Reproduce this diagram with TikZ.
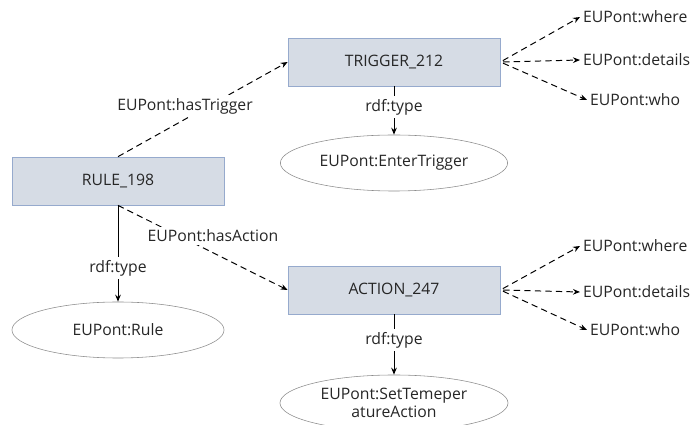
\documentclass[tikz,border=0pt]{standalone}
\usepackage{fontspec}
\setmainfont{Open Sans}
\usetikzlibrary{shapes.geometric}
\usetikzlibrary{arrows.meta}
\usetikzlibrary{math}

\definecolor{boxfill}{RGB}{214,220,229}
\definecolor{boxline}{RGB}{150,170,205}
\definecolor{ovalline}{RGB}{140,140,140}

\tikzset{
  instbox/.style={draw=boxline, fill=boxfill, line width=0.5pt,
    minimum width=5.3cm, minimum height=1.2cm, inner sep=0pt,
    font=\fontsize{11.2}{13}\selectfont},
  classoval/.style={ellipse, draw=ovalline, line width=0.4pt, inner sep=0pt,
    minimum width=5.3cm, minimum height=1.4cm, align=center,
    font=\fontsize{11.2}{13.5}\selectfont},
  edgelbl/.style={fill=white, inner sep=2pt, font=\fontsize{11.2}{13}\selectfont},
  proplbl/.style={anchor=west, inner sep=2pt, font=\fontsize{11.2}{13}\selectfont},
  typeof/.style={line width=0.7pt, -{Stealth[length=5pt,width=4pt]}},
  relation/.style={line width=0.7pt, dash pattern=on 4.5pt off 3pt,
    -{Stealth[length=5pt,width=4pt]}},
}

\begin{document}
\begin{tikzpicture}[x=0.025cm, y=-0.025cm, text=black!85]

  \tikzmath{
    \midx  = 394; % centre column of trigger and action
    \propx = 580; % left end of property labels
  }

  \useasboundingbox (0,0) rectangle (691,425);

  % instances
  \node[instbox] (rule)    at (118,181)   {RULE\_198};
  \node[instbox] (trigger) at (\midx,62)  {TRIGGER\_212};
  \node[instbox] (action)  at (\midx,290) {ACTION\_247};

  % classes
  \node[classoval] (ruleclass) at (118,330) {EUPont:Rule};
  \node[classoval, minimum width=5.68cm] (trigclass) at (\midx,163) {EUPont:EnterTrigger};
  \node[classoval, minimum width=5.7cm] (actclass) at (\midx,403)
    {EUPont:SetTemeper\\[-1pt]atureAction};

  % properties of the trigger
  \node[proplbl] (twhere)   at (\propx,17)  {EUPont:where};
  \node[proplbl] (tdetails) at (\propx,60)  {EUPont:details};
  \node[proplbl] (twho)     at (587,100)    {EUPont:who};

  % properties of the action
  \node[proplbl] (awhere)   at (\propx,246) {EUPont:where};
  \node[proplbl] (adetails) at (\propx,292) {EUPont:details};
  \node[proplbl] (awho)     at (587,330)    {EUPont:who};

  % links
  \draw[relation] (rule.north) -- (trigger.west);
  \draw[relation] (rule.south) -- (action.west);

  \draw[typeof] (rule.south)    -- (ruleclass.north);
  \draw[typeof] (trigger.south) -- (trigclass.north);
  \draw[typeof] (action.south)  -- (actclass.north);

  \draw[relation, shorten <=2pt] (trigger.east) -- (twhere.west);
  \draw[relation, shorten <=2pt] (trigger.east) -- (tdetails.west);
  \draw[relation, shorten <=2pt] (trigger.east) -- (twho.west);

  \draw[relation, shorten <=2pt] (action.east) -- (awhere.west);
  \draw[relation, shorten <=2pt] (action.east) -- (adetails.west);
  \draw[relation, shorten <=2pt] (action.east) -- (awho.west);

  % labels on the links
  \node[edgelbl] (hastrig) at (185,106)   {EUPont:hasTrigger};
  \node[edgelbl] (hasact)  at (213,236)   {EUPont:hasAction};
  \node[edgelbl] (rtype)   at (118,268)   {rdf:type};
  \node[edgelbl] (ttype)   at (\midx,107) {rdf:type};
  \node[edgelbl] (atype)   at (\midx,340) {rdf:type};

\end{tikzpicture}
\end{document}
